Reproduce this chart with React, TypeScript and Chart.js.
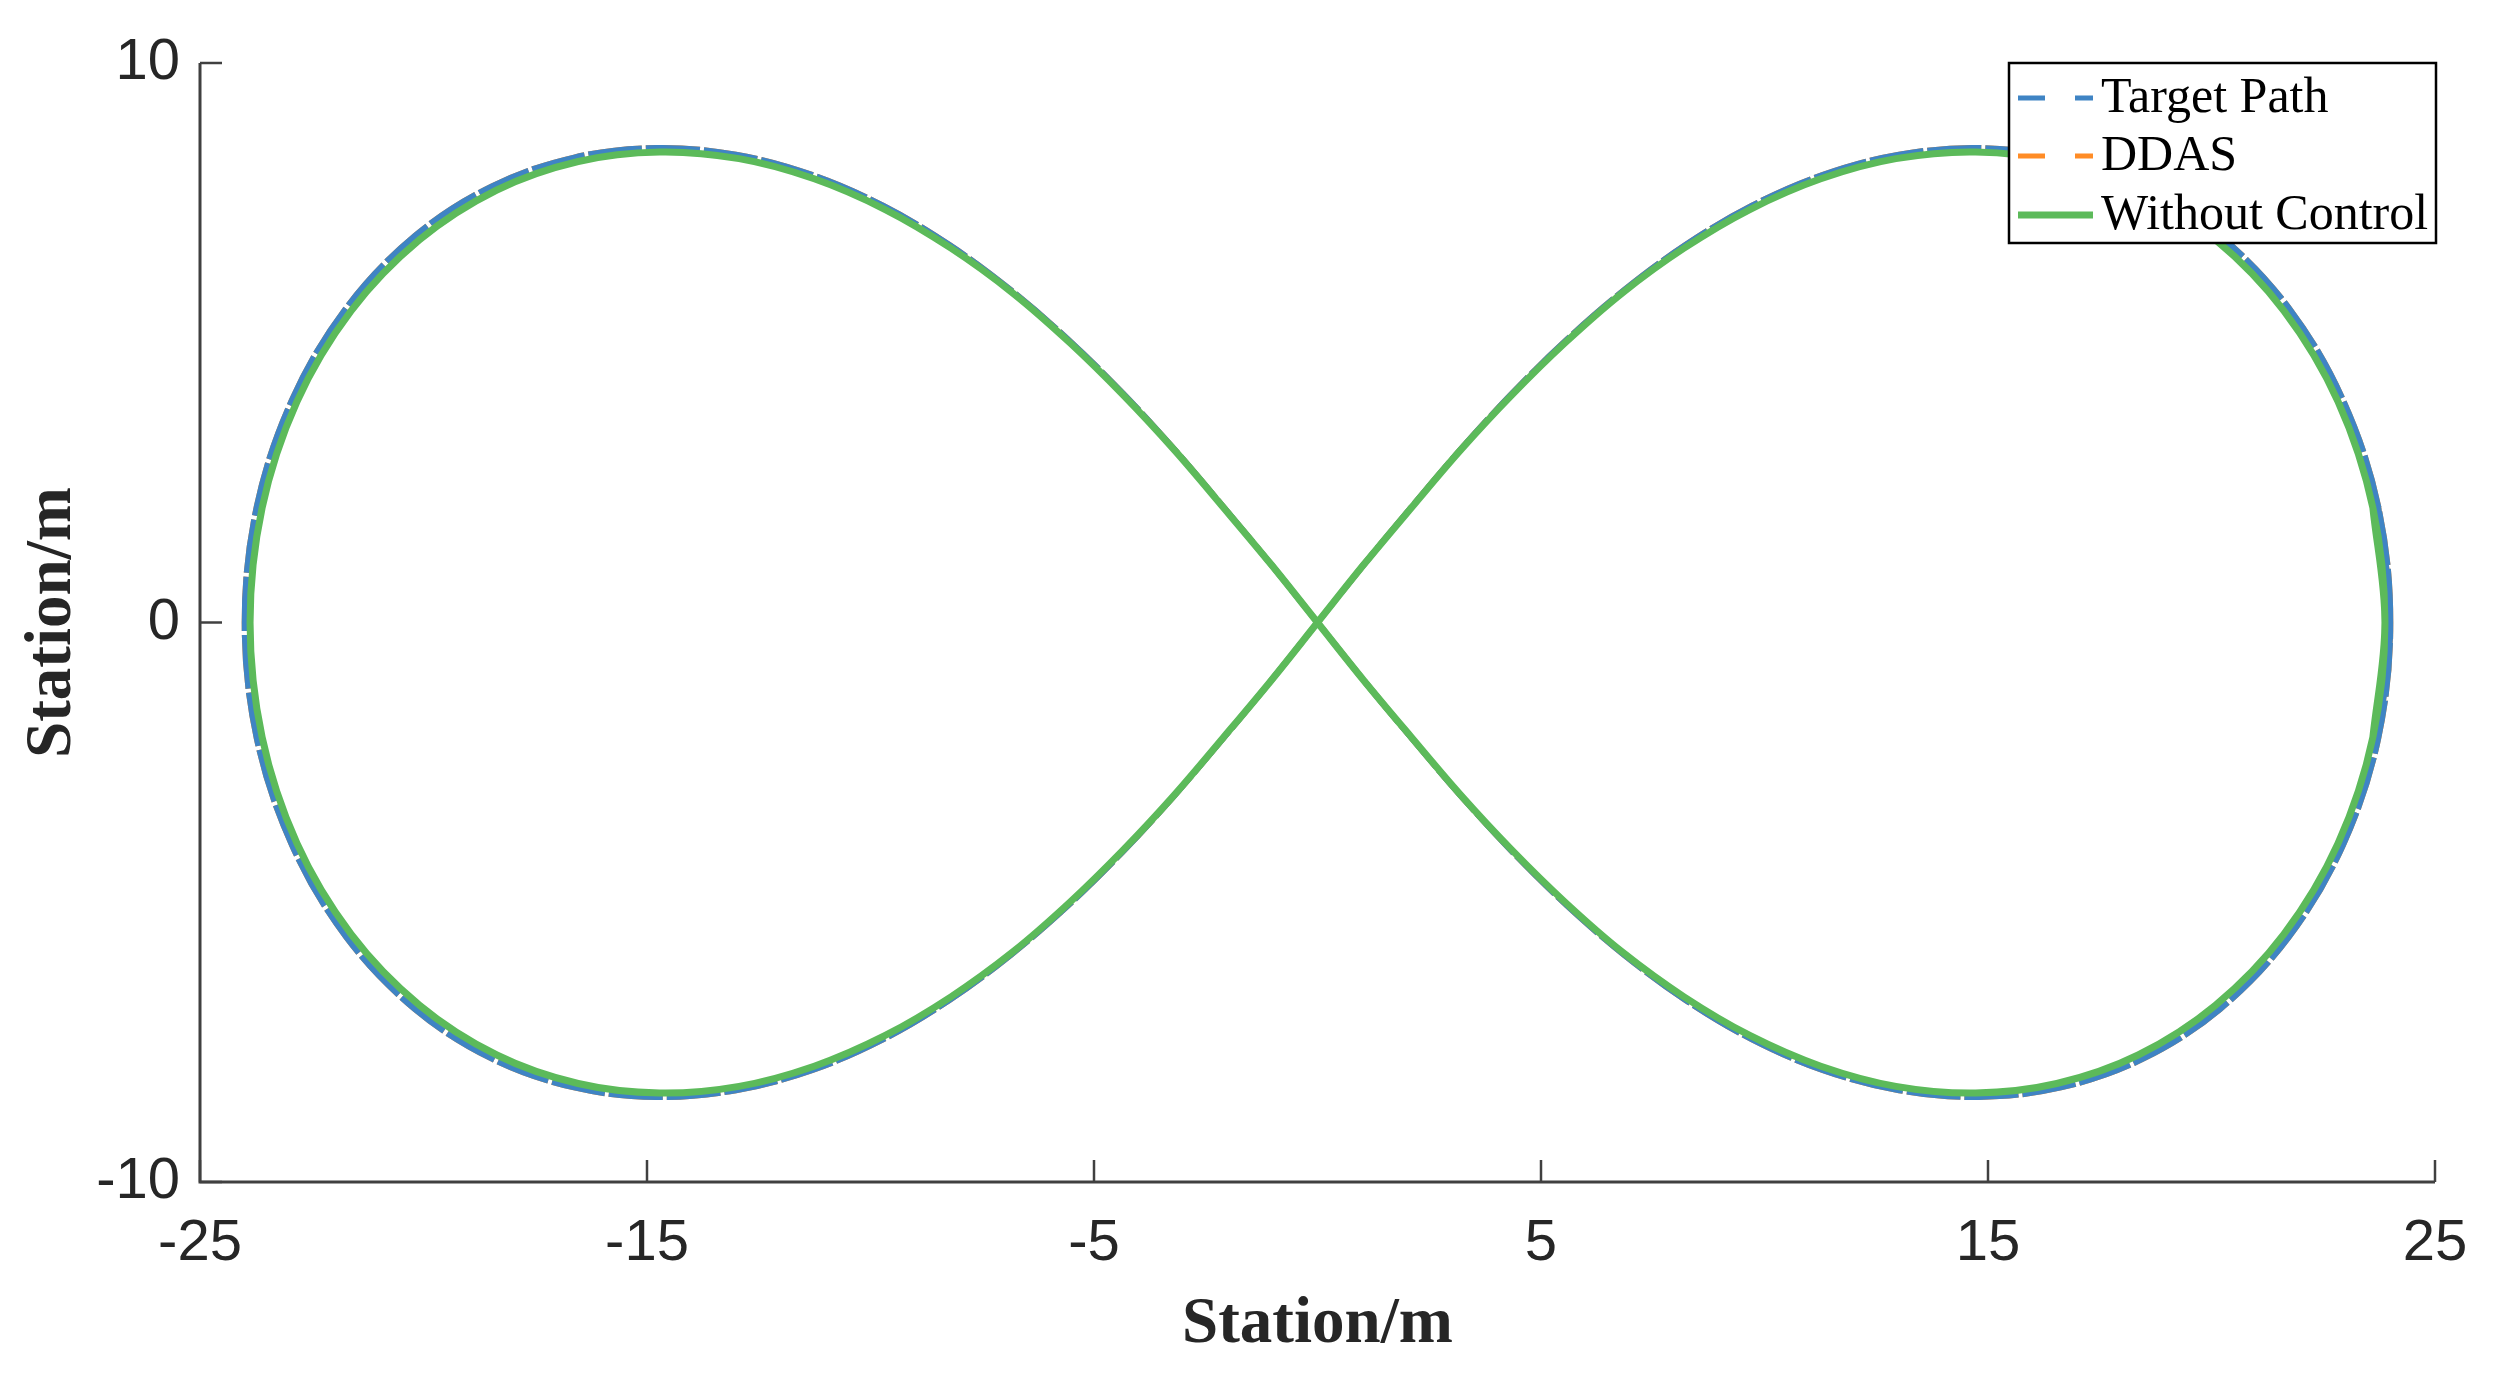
import React, { useEffect, useRef } from "react";
import { Chart, registerables } from "chart.js";

Chart.register(...registerables);

// Target path points, closed loop with one overlap point at each end
const targetX = [
  23.73,
  24, 23.73, 22.94, 21.73, 20.19, 18.46, 16.63, 14.79, 13.01, 11.31, 9.72, 8.24, 6.86, 5.57, 4.36, 3.21, 2.12, 1.05, 0,
  -1.05, -2.12, -3.21, -4.36, -5.57, -6.86, -8.24, -9.72, -11.31, -13.01, -14.79, -16.63, -18.46, -20.19, -21.73, -22.94, -23.73, -24,
  -23.73, -22.94, -21.73, -20.19, -18.46, -16.63, -14.79, -13.01, -11.31, -9.72, -8.24, -6.86, -5.57, -4.36, -3.21, -2.12, -1.05, 0,
  1.05, 2.12, 3.21, 4.36, 5.57, 6.86, 8.24, 9.72, 11.31, 13.01, 14.79, 16.63, 18.46, 20.19, 21.73, 22.94, 23.73, 24,
  23.73,
];
const targetY = [
  -2.07,
  0, 2.07, 3.98, 5.62, 6.91, 7.8, 8.31, 8.48, 8.36, 8.0, 7.45, 6.75, 5.94, 5.05, 4.1, 3.1, 2.08, 1.05, 0,
  -1.05, -2.08, -3.1, -4.1, -5.05, -5.94, -6.75, -7.45, -8.0, -8.36, -8.48, -8.31, -7.8, -6.91, -5.62, -3.98, -2.07, 0,
  2.07, 3.98, 5.62, 6.91, 7.8, 8.31, 8.48, 8.36, 8.0, 7.45, 6.75, 5.94, 5.05, 4.1, 3.1, 2.08, 1.05, 0,
  -1.05, -2.08, -3.1, -4.1, -5.05, -5.94, -6.75, -7.45, -8.0, -8.36, -8.48, -8.31, -7.8, -6.91, -5.62, -3.98, -2.07, 0,
  2.07,
];
// DDAS (coincides with the target path)
const ddasX = [
  23.73,
  24, 23.73, 22.94, 21.73, 20.19, 18.46, 16.63, 14.79, 13.01, 11.31, 9.72, 8.24, 6.86, 5.57, 4.36, 3.21, 2.12, 1.05, 0,
  -1.05, -2.12, -3.21, -4.36, -5.57, -6.86, -8.24, -9.72, -11.31, -13.01, -14.79, -16.63, -18.46, -20.19, -21.73, -22.94, -23.73, -24,
  -23.73, -22.94, -21.73, -20.19, -18.46, -16.63, -14.79, -13.01, -11.31, -9.72, -8.24, -6.86, -5.57, -4.36, -3.21, -2.12, -1.05, 0,
  1.05, 2.12, 3.21, 4.36, 5.57, 6.86, 8.24, 9.72, 11.31, 13.01, 14.79, 16.63, 18.46, 20.19, 21.73, 22.94, 23.73, 24,
  23.73,
];
const ddasY = [
  -2.07,
  0, 2.07, 3.98, 5.62, 6.91, 7.8, 8.31, 8.48, 8.36, 8.0, 7.45, 6.75, 5.94, 5.05, 4.1, 3.1, 2.08, 1.05, 0,
  -1.05, -2.08, -3.1, -4.1, -5.05, -5.94, -6.75, -7.45, -8.0, -8.36, -8.48, -8.31, -7.8, -6.91, -5.62, -3.98, -2.07, 0,
  2.07, 3.98, 5.62, 6.91, 7.8, 8.31, 8.48, 8.36, 8.0, 7.45, 6.75, 5.94, 5.05, 4.1, 3.1, 2.08, 1.05, 0,
  -1.05, -2.08, -3.1, -4.1, -5.05, -5.94, -6.75, -7.45, -8.0, -8.36, -8.48, -8.31, -7.8, -6.91, -5.62, -3.98, -2.07, 0,
  2.07,
];
// Without control (slightly inside the target path)
const freeX = [
  23.61,
  23.88, 23.61, 22.83, 21.62, 20.09, 18.36, 16.54, 14.72, 12.94, 11.26, 9.67, 8.2, 6.82, 5.54, 4.34, 3.2, 2.11, 1.04, 0,
  -1.04, -2.11, -3.2, -4.34, -5.54, -6.82, -8.2, -9.67, -11.26, -12.94, -14.72, -16.54, -18.36, -20.09, -21.62, -22.83, -23.61, -23.88,
  -23.61, -22.83, -21.62, -20.09, -18.36, -16.54, -14.72, -12.94, -11.26, -9.67, -8.2, -6.82, -5.54, -4.34, -3.2, -2.11, -1.04, 0,
  1.04, 2.11, 3.2, 4.34, 5.54, 6.82, 8.2, 9.67, 11.26, 12.94, 14.72, 16.54, 18.36, 20.09, 21.62, 22.83, 23.61, 23.88,
  23.61,
];
const freeY = [
  -2.05,
  0, 2.05, 3.95, 5.57, 6.84, 7.73, 8.24, 8.41, 8.29, 7.93, 7.38, 6.69, 5.89, 5.0, 4.06, 3.08, 2.06, 1.04, 0,
  -1.04, -2.06, -3.08, -4.06, -5.0, -5.89, -6.69, -7.38, -7.93, -8.29, -8.41, -8.24, -7.73, -6.84, -5.57, -3.95, -2.05, 0,
  2.05, 3.95, 5.57, 6.84, 7.73, 8.24, 8.41, 8.29, 7.93, 7.38, 6.69, 5.89, 5.0, 4.06, 3.08, 2.06, 1.04, 0,
  -1.04, -2.06, -3.08, -4.06, -5.0, -5.89, -6.69, -7.38, -7.93, -8.29, -8.41, -8.24, -7.73, -6.84, -5.57, -3.95, -2.05, 0,
  2.05,
];

const xTicks = [-25, -15, -5, 5, 15, 25];
const yTicks = [-10, 0, 10];
const seriesNames = ["Target Path", "DDAS", "Without Control"];
const axisTitle = "Station/m";

const BLUE = "#3f84c4";
const ORANGE = "#ff8c26";
const GREEN = "#5cba5a";

const toPts = (xs: number[], ys: number[]) => xs.map((x, i) => ({ x, y: ys[i] }));

const overlayPlugin = {
  id: "overlay",
  afterDraw(chart: any) {
    const { ctx, chartArea, scales } = chart;
    const xs = scales.x;
    const ys = scales.y;
    ctx.save();
    // axes lines
    ctx.strokeStyle = "#404040";
    ctx.lineWidth = 3;
    ctx.setLineDash([]);
    ctx.beginPath();
    ctx.moveTo(chartArea.left, chartArea.top);
    ctx.lineTo(chartArea.left, chartArea.bottom);
    ctx.lineTo(chartArea.right, chartArea.bottom);
    ctx.stroke();
    // inner ticks
    ctx.lineWidth = 2.5;
    const tl = 22;
    xTicks.forEach((v) => {
      const px = xs.getPixelForValue(v);
      ctx.beginPath();
      ctx.moveTo(px, chartArea.bottom);
      ctx.lineTo(px, chartArea.bottom - tl);
      ctx.stroke();
    });
    yTicks.forEach((v) => {
      const py = ys.getPixelForValue(v);
      ctx.beginPath();
      ctx.moveTo(chartArea.left, py);
      ctx.lineTo(chartArea.left + tl, py);
      ctx.stroke();
    });
    // legend
    const lx0 = 2009, ly0 = 63, lx1 = 2436, ly1 = 243;
    ctx.fillStyle = "#ffffff";
    ctx.fillRect(lx0, ly0, lx1 - lx0, ly1 - ly0);
    ctx.strokeStyle = "#000000";
    ctx.lineWidth = 2.5;
    ctx.strokeRect(lx0, ly0, lx1 - lx0, ly1 - ly0);
    const rows = [98, 156, 215];
    const cols = [BLUE, ORANGE, GREEN];
    const dashes = [[27, 30], [27, 30], []];
    const widths = [5, 5, 7];
    rows.forEach((ry, i) => {
      ctx.strokeStyle = cols[i];
      ctx.lineWidth = widths[i];
      ctx.setLineDash(dashes[i]);
      ctx.beginPath();
      ctx.moveTo(2018, ry);
      ctx.lineTo(2093, ry);
      ctx.stroke();
      ctx.setLineDash([]);
      ctx.fillStyle = "#000000";
      ctx.font = '50px "Liberation Serif", "Times New Roman", serif';
      ctx.textBaseline = "middle";
      ctx.textAlign = "left";
      ctx.fillText(seriesNames[i], 2101, ry + 1);
    });
    ctx.restore();
  },
};

export default function App() {
  const ref = useRef<HTMLCanvasElement | null>(null);
  useEffect(() => {
    if (!ref.current) return;
    const chart = new Chart(ref.current, {
      type: "scatter",
      data: {
        datasets: [
          {
            label: seriesNames[2],
            data: toPts(freeX, freeY),
            showLine: true,
            borderColor: GREEN,
            backgroundColor: GREEN,
            borderWidth: 7,
            pointRadius: 0,
            tension: 0.35,
            order: 0,
          },
          {
            label: seriesNames[0],
            data: toPts(targetX, targetY),
            showLine: true,
            borderColor: BLUE,
            backgroundColor: BLUE,
            borderWidth: 6,
            borderDash: [54, 4],
            pointRadius: 0,
            tension: 0.35,
            order: 1,
          },
          {
            label: seriesNames[1],
            data: toPts(ddasX, ddasY),
            showLine: true,
            borderColor: ORANGE,
            backgroundColor: ORANGE,
            borderWidth: 6,
            borderDash: [54, 4],
            pointRadius: 0,
            tension: 0.35,
            order: 2,
          },
        ],
      },
      options: {
        responsive: false,
        animation: false,
        layout: { padding: { left: 0, top: 63, right: 71, bottom: 0 } },
        plugins: { legend: { display: false }, tooltip: { enabled: false } },
        scales: {
          x: {
            type: "linear",
            min: -25,
            max: 25,
            afterBuildTicks: (s: any) => {
              s.ticks = xTicks.map((v) => ({ value: v }));
            },
            afterFit: (s: any) => {
              s.height = 197;
            },
            grid: { display: false, drawTicks: false },
            border: { display: false },
            ticks: {
              color: "#262626",
              font: { family: '"Liberation Sans", Arial, sans-serif', size: 58 },
              padding: 27,
              maxRotation: 0,
              autoSkip: false,
            },
            title: {
              display: true,
              text: axisTitle,
              color: "#262626",
              font: { family: '"Liberation Serif", "Times New Roman", serif', size: 65, weight: "bold" },
              padding: { top: 0, bottom: 15 },
            },
          },
          y: {
            type: "linear",
            min: -10,
            max: 10,
            afterBuildTicks: (s: any) => {
              s.ticks = yTicks.map((v) => ({ value: v }));
            },
            afterFit: (s: any) => {
              s.width = 200;
            },
            grid: { display: false, drawTicks: false },
            border: { display: false },
            ticks: {
              color: "#262626",
              font: { family: '"Liberation Sans", Arial, sans-serif', size: 58 },
              padding: 20,
              autoSkip: false,
            },
            title: {
              display: true,
              text: axisTitle,
              color: "#262626",
              font: { family: '"Liberation Serif", "Times New Roman", serif', size: 65, weight: "bold" },
              padding: { top: 14, bottom: 0 },
            },
          },
        },
      },
      plugins: [overlayPlugin],
    });
    return () => chart.destroy();
  }, []);
  return (
    <div style={{ position: "fixed", left: 0, top: 0, width: 2506, height: 1379, background: "#fff" }}>
      <canvas ref={ref} width={2506} height={1379} style={{ width: 2506, height: 1379, display: "block" }} />
    </div>
  );
}
